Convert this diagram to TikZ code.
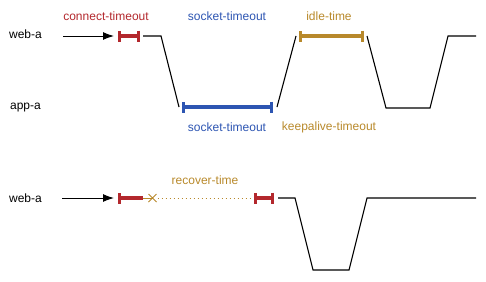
\documentclass[tikz,border=0pt]{standalone}
\usepackage{fontspec}
\setmainfont{Liberation Sans}
\usetikzlibrary{arrows.meta,calc}
\definecolor{cred}{HTML}{B3282D}
\definecolor{cblue}{HTML}{2D55B2}
\definecolor{cgold}{HTML}{B8892B}
\begin{document}
\begin{tikzpicture}[x=1pt,y=-1pt,
  lbl/.style={font=\fontsize{12}{14}\selectfont, inner sep=0pt},
  wave/.style={line width=1.1pt, line join=miter},
  interval/.style={line width=3.4pt, {Bar[width=11pt,line width=2.6pt]}-{Bar[width=11pt,line width=2.6pt]}},
  entry/.style={line width=1pt, -{Latex[length=11pt,width=8pt]}}]
\useasboundingbox (0,0) rectangle (486,281);
% labels
\node[lbl] (weba1) at (25.5,34.5) {web-a};
\node[lbl] (appa) at (25.5,107.5) {app-a};
\node[lbl] (weba2) at (25.5,198) {web-a};
\node[lbl, text=cred] (lct) at (106,16) {connect-timeout};
\node[lbl, text=cblue] (lst1) at (227,16) {socket-timeout};
\node[lbl, text=cgold] (lit) at (329,16) {idle-time};
\node[lbl, text=cblue] (lst2) at (227,127) {socket-timeout};
\node[lbl, text=cgold] (lka) at (329,127) {keepalive-timeout};
\node[lbl, text=cgold] (lrt) at (205,180) {recover-time};
% top timeline
\coordinate (a0) at (63,36);
\coordinate (a1) at (114,36);
\coordinate (c0) at (118,36);
\coordinate (c1) at (140,36);
\coordinate (w0) at (143,36);
\coordinate (w1) at (161,36);
\coordinate (w2) at (179,107);
\coordinate (s0) at (182,107);
\coordinate (s1) at (273,107);
\coordinate (w3) at (277,107);
\coordinate (w4) at (296,36);
\coordinate (i0) at (299,36);
\coordinate (i1) at (364,36);
\coordinate (w5) at (367,36);
\coordinate (w6) at (386,108);
\coordinate (w7) at (430,108);
\coordinate (w8) at (448,36);
\coordinate (w9) at (476,36);
\draw[entry] (a0) -- (a1);
\draw[interval, cred] (c0) -- (c1);
\draw[wave] (w0) -- (w1) -- (w2);
\draw[interval, cblue] (s0) -- (s1);
\draw[wave] (w3) -- (w4);
\draw[interval, cgold] (i0) -- (i1);
\draw[wave] (w5) -- (w6) -- (w7) -- (w8) -- (w9);
% bottom timeline
\coordinate (b0) at (62,198);
\coordinate (b1) at (114,198);
\coordinate (r0) at (118,198);
\coordinate (r1) at (143,198);
\coordinate (x0) at (152.5,198);
\coordinate (d1) at (252,198);
\coordinate (e0) at (254,198);
\coordinate (e1) at (274,198);
\coordinate (v0) at (278,198);
\coordinate (v1) at (295,198);
\coordinate (v2) at (313,270);
\coordinate (v3) at (349,270);
\coordinate (v4) at (367,198);
\coordinate (v5) at (476,198);
\draw[entry] (b0) -- (b1);
\draw[line width=3.4pt, cred, {Bar[width=11pt,line width=2.6pt]}-] (r0) -- (r1);
\draw[cgold, line width=1pt] (r1) -- (x0);
\draw[cgold, line width=0.9pt] ($(x0)+(-4,-4)$) -- ($(x0)+(4,4)$) ($(x0)+(-4,4)$) -- ($(x0)+(4,-4)$);
\draw[cgold, line width=0.9pt, dash pattern=on 1.5pt off 2.5pt] ($(x0)+(5,0)$) -- (d1);
\draw[interval, cred] (e0) -- (e1);
\draw[wave] (v0) -- (v1) -- (v2) -- (v3) -- (v4) -- (v5);
\end{tikzpicture}
\end{document}
